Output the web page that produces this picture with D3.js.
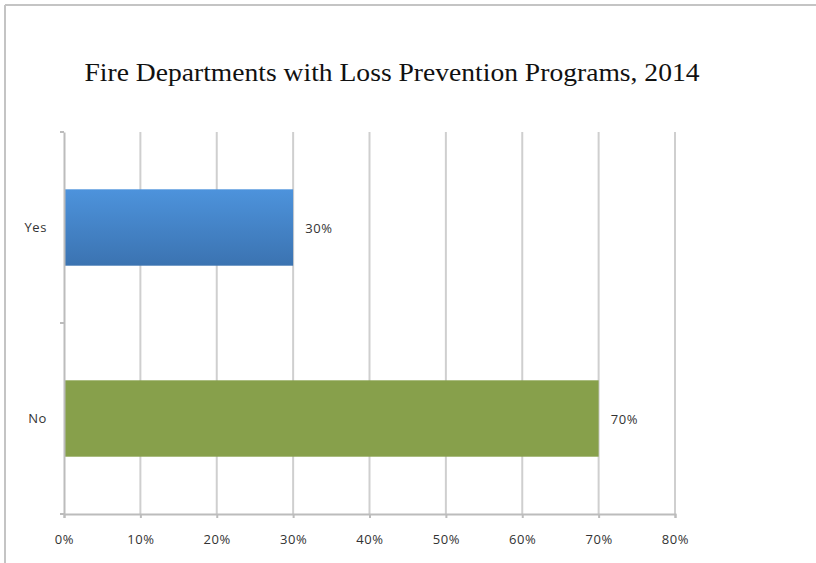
<!DOCTYPE html>
<html><head><meta charset="utf-8">
<script src="https://cdn.jsdelivr.net/npm/d3@7"></script>
<style>body{margin:0;background:#fff}svg{display:block}</style>
</head><body>
<svg id="c" width="816" height="563"></svg>
<script>
const categories = ["Yes", "No"];
const values = [0.30, 0.70];
const barColors = ["#4a8ad0", "#87a04b"];
const xTicks = [0, 0.1, 0.2, 0.3, 0.4, 0.5, 0.6, 0.7, 0.8];
const title = "Fire Departments with Loss Prevention Programs, 2014";

const svg = d3.select("#c");
const defs = svg.append("defs");
const g1 = defs.append("linearGradient").attr("id","gy").attr("x1",0).attr("y1",0).attr("x2",0).attr("y2",1);
g1.append("stop").attr("offset","0%").attr("stop-color","#4d93dc");
g1.append("stop").attr("offset","100%").attr("stop-color","#3b73b1");

const fontSans = "Open Sans, sans-serif";

// outer frame
svg.append("line").attr("x1",5).attr("x2",816).attr("y1",5).attr("y2",5).attr("stroke","#c4c4c4").attr("stroke-width",2);
svg.append("line").attr("x1",5).attr("x2",5).attr("y1",5).attr("y2",563).attr("stroke","#c4c4c4").attr("stroke-width",2);

const x = d3.scaleLinear().domain([0, 0.8]).range([64, 675]);
const y = d3.scaleBand().domain(categories).range([132, 514]).paddingInner(0.6).paddingOuter(0.3);
const yb = d3.scaleBand().domain(categories).range([132, 514]);

// gridlines
svg.append("g").selectAll("line").data(xTicks.slice(1)).join("line")
  .attr("x1", d => x(d)).attr("x2", d => x(d)).attr("y1",132).attr("y2",514)
  .attr("stroke","#cfcfcf").attr("stroke-width",2);

// bars
svg.append("g").selectAll("rect").data(categories).join("rect")
  .attr("x", x(0)).attr("y", d => y(d)).attr("height", y.bandwidth())
  .attr("width", (d,i) => x(values[i]) - x(0))
  .attr("fill", (d,i) => i === 0 ? "url(#gy)" : barColors[i]);

// axes
const xAxis = svg.append("g").attr("transform","translate(0,514)")
  .call(d3.axisBottom(x).tickValues(xTicks).tickFormat(d3.format(".0%")).tickSize(4).tickPadding(17));
xAxis.select(".domain").attr("stroke","#bcbcbc").attr("stroke-width",2);
xAxis.selectAll(".tick line").attr("stroke","#bcbcbc").attr("stroke-width",2);
xAxis.selectAll("text").attr("font-family",fontSans).attr("font-size",13).attr("letter-spacing",0.6).attr("fill","#333");

const yAxis = svg.append("g").attr("transform","translate(64,0)")
  .call(d3.axisLeft(yb).tickSize(0).tickPadding(17));
yAxis.select(".domain").attr("stroke","#bcbcbc").attr("stroke-width",2);
yAxis.selectAll("text").attr("font-family",fontSans).attr("font-size",13).attr("letter-spacing",0.6).attr("fill","#333");
// category boundary ticks
svg.append("g").selectAll("line").data([132, yb("No"), 514]).join("line")
  .attr("x1",60).attr("x2",64).attr("y1",d=>d).attr("y2",d=>d)
  .attr("stroke","#bcbcbc").attr("stroke-width",2);

// data labels
svg.append("g").selectAll("text").data(categories).join("text")
  .attr("x", (d,i) => x(values[i]) + 12)
  .attr("y", d => y(d) + y.bandwidth()/2 + 1)
  .attr("dy","0.35em")
  .attr("font-family",fontSans).attr("font-size",13).attr("letter-spacing",0.6).attr("fill","#333")
  .text((d,i) => d3.format(".0%")(values[i]));

// title
svg.append("text").attr("x",392).attr("y",81).attr("text-anchor","middle")
  .attr("font-family","Liberation Serif, serif").attr("font-size",26).attr("fill","#111")
  .attr("textLength",615).attr("lengthAdjust","spacingAndGlyphs")
  .text(title);
</script>
</body></html>
